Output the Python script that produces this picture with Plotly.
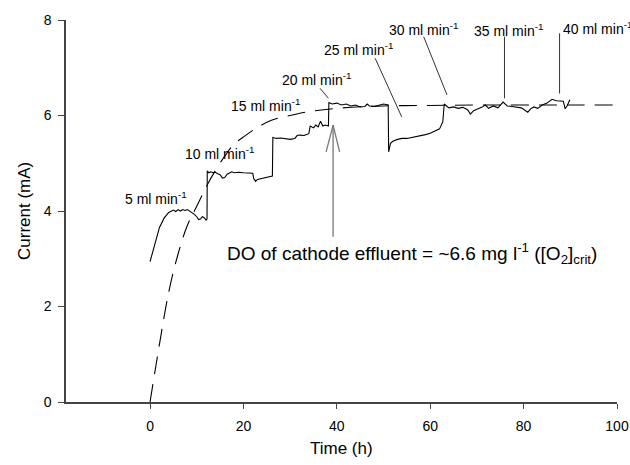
import plotly.graph_objects as go

# Measured current (solid line)
time_h = [0, 1, 2, 3, 4, 5, 5.5, 6, 6.5, 7, 7.5, 8, 8.5, 9, 9.5, 10, 10.4, 10.8, 11.2, 11.6, 12.0, 12.2,
          12.25, 12.6, 13, 13.5, 14, 14.5, 15, 15.5, 16, 16.5, 17, 17.5, 18, 19, 20, 21, 22, 22.2, 22.6, 23, 24, 25, 25.5, 26.2,
          26.3, 27, 28, 29, 30, 31, 31.5, 32, 33, 34, 34.3, 35, 35.5, 36, 36.5, 37, 37.5, 38.2,
          38.3, 39, 40, 41, 42, 43, 44, 45, 46, 46.5, 47, 48, 49, 50, 51.0,
          51.1, 51.5, 52, 53, 54, 55, 56, 57, 58, 59, 60, 61, 62, 62.7,
          63.0, 63.5, 64, 65, 66, 67, 68, 68.6, 69.3, 70, 71, 71.8, 72.5, 73.5, 74.5, 75.6, 76.5, 77.5, 78.5, 79.5,
          80.9, 81.5, 82.2, 83, 84, 85, 86.1, 87, 88.5, 88.9, 89.3, 89.9]
current_mA = [2.94, 3.3, 3.65, 3.85, 3.97, 4.02, 3.99, 4.03, 4.0, 4.03, 4.01, 4.03, 4.0, 3.97, 3.93, 3.88, 3.82, 3.83, 3.88, 3.86, 3.81, 3.83,
              4.84, 4.80, 4.82, 4.80, 4.81, 4.78, 4.76, 4.69, 4.70, 4.77, 4.80, 4.82, 4.80, 4.81, 4.80, 4.79, 4.79, 4.68, 4.62, 4.66, 4.68, 4.70, 4.72, 4.73,
              5.54, 5.52, 5.53, 5.51, 5.50, 5.52, 5.58, 5.59, 5.58, 5.62, 5.78, 5.74, 5.80, 5.76, 5.88, 5.78, 5.80, 5.78,
              6.27, 6.24, 6.26, 6.22, 6.24, 6.20, 6.22, 6.18, 6.19, 6.24, 6.20, 6.19, 6.22, 6.24, 6.22,
              5.24, 5.42, 5.46, 5.50, 5.52, 5.52, 5.54, 5.55, 5.58, 5.60, 5.63, 5.67, 5.72, 5.87,
              6.24, 6.20, 6.16, 6.18, 6.15, 6.17, 6.12, 6.03, 6.10, 6.13, 6.17, 6.22, 6.15, 6.20, 6.16, 6.28, 6.20, 6.19, 6.18, 6.16,
              6.07, 6.14, 6.18, 6.15, 6.22, 6.26, 6.34, 6.31, 6.30, 6.14, 6.20, 6.33]

# Model curve (dashed line)
model_time_h = [0, 2, 4, 6, 8, 10, 12, 14, 16, 18, 20, 23, 26, 30, 34, 40, 50, 60, 70, 80, 90, 100]
model_current_mA = [0, 1.2, 2.3, 3.1, 3.7, 4.1, 4.5, 4.85, 5.15, 5.4, 5.55, 5.75, 5.9, 6.0, 6.08, 6.15, 6.2, 6.21, 6.22, 6.22, 6.22, 6.22]

flow_labels = ["5 ml min<sup>-1</sup>", "10 ml min<sup>-1</sup>", "15 ml min<sup>-1</sup>", "20 ml min<sup>-1</sup>",
               "25 ml min<sup>-1</sup>", "30 ml min<sup>-1</sup>", "35 ml min<sup>-1</sup>", "40 ml min<sup>-1</sup>"]
label_x = [1.3, 14.8, 24.75, 35.7, 44.7, 58.6, 76.8, 87.9]
label_y = [4.27, 5.21, 6.22, 6.76, 7.39, 7.81, 7.79, 7.83]
label_anchor = ["center"] * 7 + ["left"]

# pointer lines (x0, y0, x1, y1)
pointers = [
    (36.4, 6.57, 38.2, 6.36),
    (48.2, 7.20, 53.9, 5.97),
    (58.6, 7.65, 63.6, 6.43),
    (75.9, 7.65, 75.9, 6.36),
    (87.7, 7.72, 87.7, 6.46),
]

x_ticks = [0, 20, 40, 60, 80, 100]
y_ticks = [0, 2, 4, 6, 8]

FONT = "Liberation Sans, Arial, sans-serif"

fig = go.Figure()
fig.add_trace(go.Scatter(x=model_time_h, y=model_current_mA, mode="lines", line_shape="spline",
                         line=dict(color="black", width=1.1, dash="18px,10px"), hoverinfo="skip"))
fig.add_trace(go.Scatter(x=time_h, y=current_mA, mode="lines",
                         line=dict(color="black", width=1.1), hoverinfo="skip"))

for t, x, y, a in zip(flow_labels, label_x, label_y, label_anchor):
    fig.add_annotation(x=x, y=y, xref="x", yref="y", text=t, showarrow=False,
                       xanchor=a, yanchor="middle", font=dict(size=14, color="black", family=FONT))

for x0, y0, x1, y1 in pointers:
    fig.add_shape(type="line", x0=x0, y0=y0, x1=x1, y1=y1, xref="x", yref="y",
                  line=dict(color="#333333", width=1))

# DO arrow
arrow_x, arrow_y0, arrow_y1 = 39.2, 3.46, 5.80
fig.add_shape(type="line", x0=arrow_x, y0=arrow_y0, x1=arrow_x, y1=arrow_y1, xref="x", yref="y",
              line=dict(color="#777777", width=1.3))
fig.add_shape(type="line", x0=37.7, y0=5.24, x1=arrow_x, y1=arrow_y1, xref="x", yref="y",
              line=dict(color="#777777", width=1.3))
fig.add_shape(type="line", x0=40.6, y0=5.24, x1=arrow_x, y1=arrow_y1, xref="x", yref="y",
              line=dict(color="#777777", width=1.3))

fig.add_annotation(x=16.1, y=3.10, xref="x", yref="y",
                   text="DO of cathode effluent = ~6.6 mg l<sup>-1</sup> ([O<sub>2</sub>]<sub>crit</sub>)",
                   showarrow=False, xanchor="left", yanchor="middle",
                   font=dict(size=19, color="black", family=FONT))

# axis titles
fig.add_annotation(x=0.5, y=0, xref="paper", yref="paper", text="Time (h)", showarrow=False,
                   xanchor="center", yanchor="middle", yshift=-46, font=dict(size=17, color="black", family=FONT))
fig.add_annotation(x=0, y=0.5, xref="paper", yref="paper", text="Current (mA)", showarrow=False,
                   textangle=-90, xanchor="center", yanchor="middle", xshift=-42,
                   font=dict(size=17, color="black", family=FONT))

fig.update_layout(
    width=630, height=465,
    margin=dict(l=66, r=13, t=20, b=63, autoexpand=False),
    paper_bgcolor="white", plot_bgcolor="white",
    showlegend=False,
    font=dict(family=FONT, color="black", size=14),
)
fig.update_xaxes(range=[-18, 100], tickvals=x_ticks, ticks="outside", ticklen=5, tickwidth=1,
                 tickcolor="#444444", showline=True, linecolor="#444444", linewidth=1.5,
                 showgrid=False, zeroline=False, tickfont=dict(size=14), ticklabelstandoff=5,
                 automargin=False)
fig.update_yaxes(range=[0, 8], tickvals=y_ticks, ticks="outside", ticklen=6, tickwidth=1,
                 tickcolor="#444444", showline=True, linecolor="#444444", linewidth=1.5,
                 showgrid=False, zeroline=False, tickfont=dict(size=14), ticklabelstandoff=4,
                 automargin=False)

fig.write_html("out.html")
